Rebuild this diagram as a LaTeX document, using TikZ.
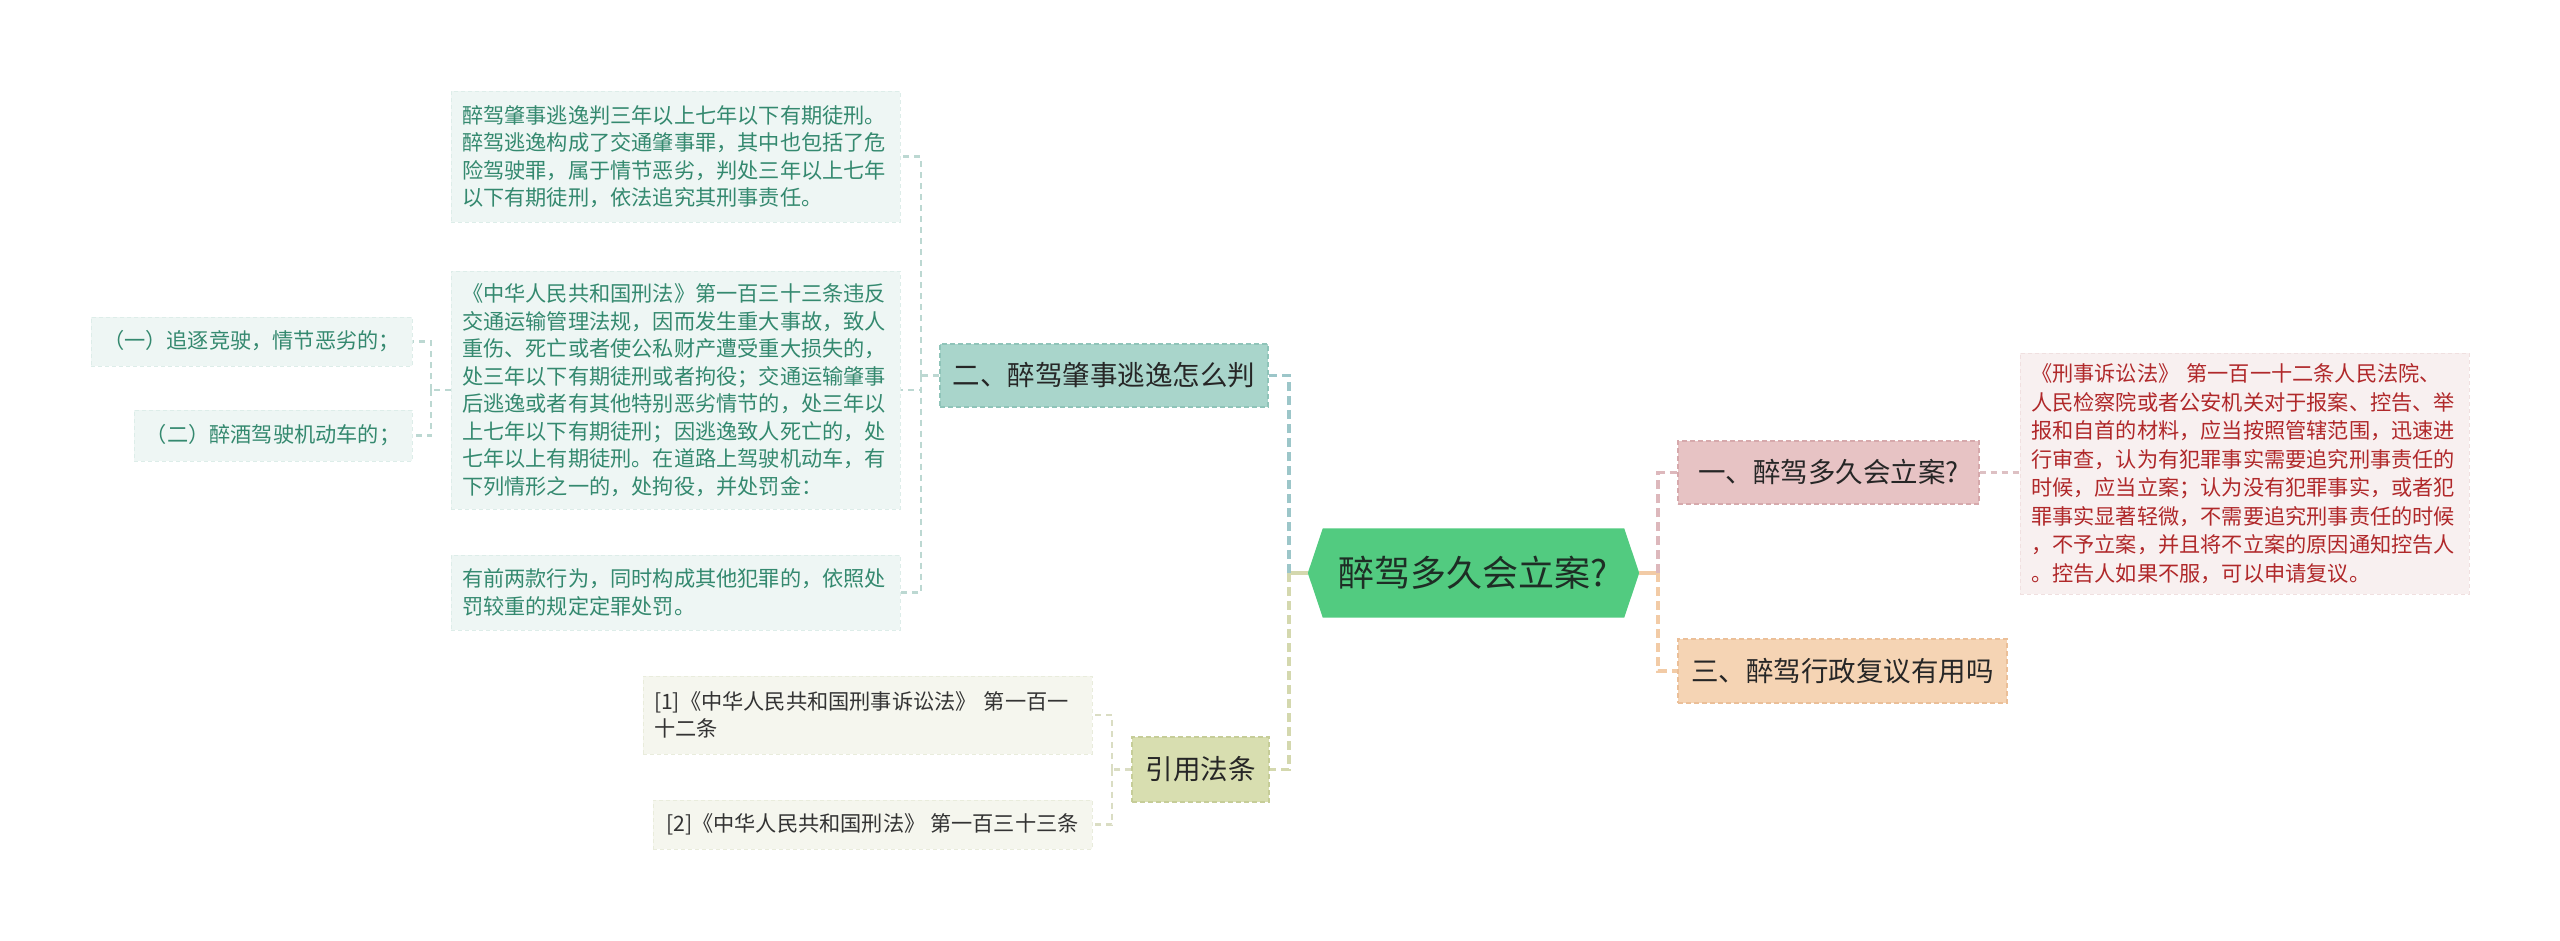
\documentclass[tikz,border=0pt]{standalone}
\usepackage{fontspec}
\setmainfont{Noto Sans CJK SC}
\usetikzlibrary{backgrounds}
\definecolor{leaffill}{HTML}{EEF6F4}
\definecolor{leafborder}{HTML}{DDEDE9}
\definecolor{leaftext}{HTML}{34896F}
\definecolor{reffill}{HTML}{F5F6EE}
\definecolor{refborder}{HTML}{E9ECDC}
\definecolor{reftext}{HTML}{333333}
\definecolor{redfill}{HTML}{F8F0F0}
\definecolor{redborder}{HTML}{F0E0E0}
\definecolor{redtext}{HTML}{B0282A}
\definecolor{tealfill}{HTML}{A9D5CB}
\definecolor{tealborder}{HTML}{8FC4B9}
\definecolor{pinkfill}{HTML}{E7C3C4}
\definecolor{pinkborder}{HTML}{D6A9AC}
\definecolor{peachfill}{HTML}{F5D4B4}
\definecolor{peachborder}{HTML}{EBBF98}
\definecolor{olivefill}{HTML}{D8DEB0}
\definecolor{oliveborder}{HTML}{C6CD98}
\definecolor{hexfill}{HTML}{52CB80}
\definecolor{hextext}{HTML}{1E2D25}
\definecolor{topictext}{HTML}{262626}
\definecolor{lnteal}{HTML}{9CC6C9}
\definecolor{lnolive}{HTML}{D4D8AE}
\definecolor{lnpink}{HTML}{DDB8BC}
\definecolor{lnpeach}{HTML}{F2CBA6}
\definecolor{lnleaf}{HTML}{BCD8D2}
\definecolor{lnref}{HTML}{DADDC3}
\definecolor{lnred}{HTML}{DDC0C3}
\begin{document}
\begin{tikzpicture}[x=1pt,y=-1pt,
  box/.style={rectangle, inner sep=0pt, anchor=center},
  leaf/.style={box, fill=leaffill, draw=leafborder, line width=1pt, dash pattern=on 4pt off 3pt,
    text=leaftext, font=\fontsize{21.2}{27.5}\selectfont, inner xsep=11pt, align=left},
  leafc/.style={leaf, align=center, inner xsep=0pt},
  refbox/.style={leaf, fill=reffill, draw=refborder, text=reftext},
  redbox/.style={leaf, fill=redfill, draw=redborder, text=redtext, font=\fontsize{21.2}{28.5}\selectfont},
  topic/.style={box, font=\fontsize{27.5}{32}\selectfont, text=topictext, line width=1.3pt,
    dash pattern=on 5pt off 3pt, align=center},
  mainln/.style={line width=3.5pt, dash pattern=on 9pt off 5pt},
  stemln/.style={line width=3.5pt},
  subln/.style={line width=2.3pt, dash pattern=on 6pt off 5pt}
]
\useasboundingbox (0,0) rectangle (2560,940);

% central node
\node[box, minimum width=331pt, minimum height=89pt, font=\fontsize{36}{40}\selectfont, text=hextext] (c) at (1473.5,573) {醉驾多久会立案?};
\begin{pgfonlayer}{background}
\fill[white] (0,0) rectangle (2560,940);
\fill[hexfill] (c.west) -- ([xshift=15pt]c.north west) -- ([xshift=-15pt]c.north east) -- (c.east)
  -- ([xshift=-15pt]c.south east) -- ([xshift=15pt]c.south west) -- cycle;
\end{pgfonlayer}

% main topics
\node[topic, fill=tealfill, draw=tealborder, minimum width=328pt, minimum height=63pt] (b2) at (1104,375.5) {二、醉驾肇事逃逸怎么判};
\node[topic, fill=olivefill, draw=oliveborder, minimum width=137pt, minimum height=65pt] (b4) at (1200.5,769.5) {引用法条};
\node[topic, fill=pinkfill, draw=pinkborder, minimum width=301pt, minimum height=63pt] (b1) at (1828.5,472.5) {一、醉驾多久会立案?};
\node[topic, fill=peachfill, draw=peachborder, minimum width=329pt, minimum height=64pt] (b3) at (1842.5,671) {三、醉驾行政复议有用吗};

% leaves of b2
\node[leaf, text width=427pt, minimum height=131pt] (t1) at (675.5,156.5) {醉驾肇事逃逸判三年以上七年以下有期徒刑。\\醉驾逃逸构成了交通肇事罪，其中也包括了危\\险驾驶罪，属于情节恶劣，判处三年以上七年\\以下有期徒刑，依法追究其刑事责任。};
\node[leaf, text width=427pt, minimum height=238pt] (t2) at (675.5,390) {《中华人民共和国刑法》第一百三十三条违反\\交通运输管理法规，因而发生重大事故，致人\\重伤、死亡或者使公私财产遭受重大损失的，\\处三年以下有期徒刑或者拘役；交通运输肇事\\后逃逸或者有其他特别恶劣情节的，处三年以\\上七年以下有期徒刑；因逃逸致人死亡的，处\\七年以上有期徒刑。在道路上驾驶机动车，有\\下列情形之一的，处拘役，并处罚金：};
\node[leaf, text width=427pt, minimum height=75pt] (t3) at (675.5,592.5) {有前两款行为，同时构成其他犯罪的，依照处\\罚较重的规定定罪处罚。};
\node[leafc, minimum width=321pt, minimum height=49pt] (l1) at (251.5,341.5) {（一）追逐竞驶，情节恶劣的；};
\node[leafc, minimum width=278pt, minimum height=51pt] (l2) at (273,435.5) {（二）醉酒驾驶机动车的；};

% references
\node[refbox, text width=427pt, minimum height=78pt] (r1) at (867.5,715) {[1]《中华人民共和国刑事诉讼法》 第一百一\\十二条};
\node[refbox, align=center, inner xsep=0pt, minimum width=439pt, minimum height=49pt] (r2) at (872.5,824.5) {[2]《中华人民共和国刑法》 第一百三十三条};

% right text
\node[redbox, text width=427pt, minimum height=241pt] (rt) at (2244.5,473.5) {《刑事诉讼法》 第一百一十二条人民法院、\\人民检察院或者公安机关对于报案、控告、举\\报和自首的材料，应当按照管辖范围，迅速进\\行审查，认为有犯罪事实需要追究刑事责任的\\时候，应当立案；认为没有犯罪事实，或者犯\\罪事实显著轻微，不需要追究刑事责任的时候\\，不予立案，并且将不立案的原因通知控告人\\。控告人如果不服，可以申请复议。};

% junction coordinates
\coordinate (jl) at (1289,573);
\coordinate (jr) at (1658,573);
\coordinate (j2) at (921,375.5);
\coordinate (j3) at (431,390);
\coordinate (j4) at (1112,769.5);

% central connectors
\draw[stemln, lnolive] (c.west) -- (jl);
\draw[mainln, lnteal] (jl) |- (b2.east);
\draw[mainln, lnolive] (jl) |- (b4.east);
\draw[stemln, lnpeach] (c.east) -- (jr);
\draw[mainln, lnpink] (jr) |- (b1.west);
\draw[mainln, lnpeach] (jr) |- (b3.west);

% b2 leaves
\draw[subln, lnleaf] (b2.west) -- (j2);
\draw[subln, lnleaf] (j2) |- (t1.east);
\draw[subln, lnleaf] (j2) |- (t2.east);
\draw[subln, lnleaf] (j2) |- (t3.east);
\draw[subln, lnleaf] (t2.west) -- (j3);
\draw[subln, lnleaf] (j3) |- (l1.east);
\draw[subln, lnleaf] (j3) |- (l2.east);

% references
\draw[subln, lnref] (b4.west) -- (j4);
\draw[subln, lnref] (j4) |- (r1.east);
\draw[subln, lnref] (j4) |- (r2.east);

% right
\draw[subln, lnred] (b1.east) -- (b1.east -| rt.west);
\end{tikzpicture}
\end{document}
